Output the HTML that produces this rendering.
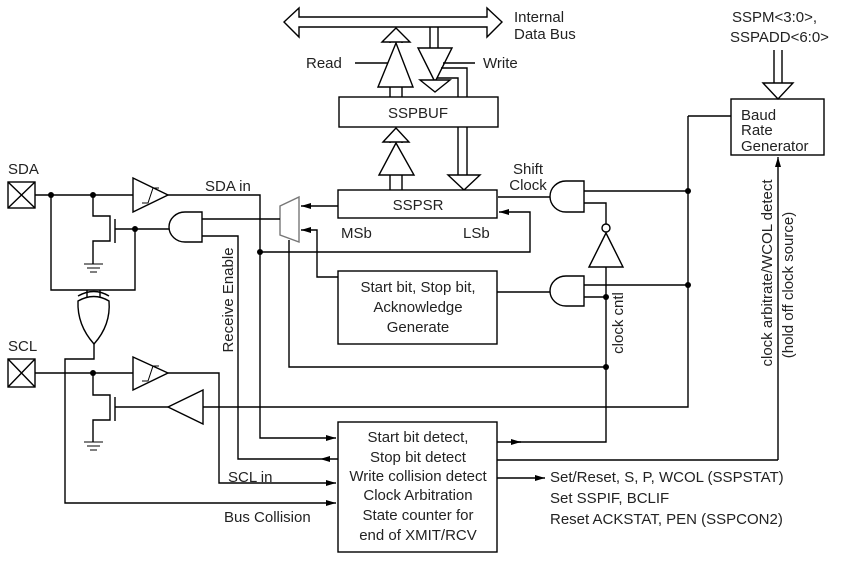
<!DOCTYPE html>
<html><head><style>html,body{margin:0;padding:0;background:#fff}svg{display:block}text{font-family:"Liberation Sans",Arial,sans-serif;fill:#222}</style></head>
<body>
<svg width="847" height="561" viewBox="0 0 847 561" xmlns="http://www.w3.org/2000/svg">
<defs>
<marker id="a" markerWidth="10" markerHeight="6" refX="10" refY="3" orient="auto" markerUnits="userSpaceOnUse"><path d="M0,0 L10,3 L0,6 Z" fill="#000"/></marker>
</defs>
<g stroke="#000" stroke-width="1.4" fill="none">
<path d="M284,22 L299,8 L299,17 L487,17 L487,8 L502,22 L487,37 L487,27 L299,27 L299,37 Z" fill="#fff"/>
<path d="M390,97 V87 M402,97 V87"/>
<path d="M378,87 L396,43 L413,87 Z" fill="#fff"/>
<path d="M390,43 V40 M402,43 V40"/>
<path d="M382,42 L396,28 L410,42 Z" fill="#fff"/>
<path d="M355,63 H388"/>
<path d="M430,27 V48 M438,27 V48"/>
<path d="M418,48 L452,48 L435,82 Z" fill="#fff"/>
<path d="M443,63 H475 M441,68 H467 V97 M437,78 H458 V97"/>
<path d="M420,80 L435,92 L450,80 Z" fill="#fff"/>
<rect x="339" y="97" width="159" height="30" fill="#fff"/>
<path d="M390,190 V175 M402,190 V175"/>
<path d="M379,175 L396,143 L414,175 Z" fill="#fff"/>
<path d="M390,143 V140 M402,143 V140"/>
<path d="M383,142 L396,128 L409,142 Z" fill="#fff"/>
<path d="M458,127 V175 M467,127 V175"/>
<path d="M448,175 L480,175 L464,190 Z" fill="#fff"/>
<rect x="338" y="190" width="159" height="28" fill="#fff"/>
<path d="M280,206 L299,197 L299,242 L280,235 Z" stroke="#777"/>
<path d="M338,206 H301" marker-end="url(#a)"/>
<path d="M338,277 H317 V230 H301" marker-end="url(#a)"/>
<path d="M289,240 V367 H606"/>
<path d="M280,219 H202"/>
<path d="M260,252 H530 V212 H499" marker-end="url(#a)"/>
<rect x="338" y="271" width="159" height="73" fill="#fff"/>
<path d="M497,292 H550"/>
<path d="M584,181 H566 A16,15.5 0 0 0 566,212 H584 Z" fill="#fff"/>
<path d="M550,197 H498 M584,191 H688 M584,203 H606 V224"/>
<circle cx="606" cy="228" r="4" fill="#fff"/>
<path d="M589,267 L606,233 L623,267 Z" fill="#fff"/>
<path d="M606,267 V442 H518"/>
<path d="M497,442 H521" marker-end="url(#a)"/>
<path d="M584,276 H566 A16,15 0 0 0 566,306 H584 Z" fill="#fff"/>
<path d="M584,285 H688 M584,297 H606"/>
<path d="M688,116 H731 M688,116 V407 H203"/>
<rect x="731" y="99" width="93" height="56" fill="#fff"/>
<path d="M774,50 V83 M782,50 V83"/>
<path d="M763,83 L793,83 L778,99 Z" fill="#fff"/>
<path d="M778,460 V157" marker-end="url(#a)"/>
<path d="M497,460 H778"/>
<path d="M497,478 H545" marker-end="url(#a)"/>
<rect x="8" y="182" width="27" height="26"/>
<path d="M8,182 L35,208 M35,182 L8,208"/>
<path d="M35,195 H133"/>
<path d="M133,178 L168,195 L133,212 Z" fill="#fff"/>
<path d="M142,203 H148 L153,188 H159" stroke-width="1"/>
<path d="M168,195 H260 V438 H336" marker-end="url(#a)"/>
<path d="M51,195 V290 H135 V229"/>
<path d="M93,195 V216 H110 V241 H93 V264 M115,219 V243 M115,229 H169"/>
<path d="M84,264 H103 M87,268 H100 M90,272 H97" stroke-width="1"/>
<path d="M202,212 H185 A16,15 0 0 0 185,242 H202 Z" fill="#fff"/>
<path d="M202,236 H238 V459 H320"/>
<path d="M338,459 H320" marker-end="url(#a)"/>
<path d="M87,290 V303 M100,290 V303"/>
<path d="M78,301 Q94,292 109,301 Q111,325 94,344 Q77,325 78,301 Z" fill="#fff"/>
<path d="M78,296 Q94,287 109,296"/>
<path d="M94,344 V359 H65 V503 H336" marker-end="url(#a)"/>
<rect x="8" y="359" width="27" height="28"/>
<path d="M8,359 L35,387 M35,359 L8,387"/>
<path d="M35,373 H133"/>
<path d="M133,357 L168,373 L133,390 Z" fill="#fff"/>
<path d="M142,381 H148 L153,366 H159" stroke-width="1"/>
<path d="M168,373 H219 V483 H336" marker-end="url(#a)"/>
<path d="M93,373 V395 H110 V420 H93 V442 M115,397 V421 M115,407 H168"/>
<path d="M84,442 H103 M87,446 H100 M90,450 H97" stroke-width="1"/>
<path d="M203,390 L168,407 L203,424 Z" fill="#fff"/>
<rect x="338" y="422" width="159" height="130" fill="#fff"/>
</g>
<g fill="#000" stroke="none">
<circle cx="51" cy="195" r="3"/><circle cx="93" cy="195" r="3"/><circle cx="135" cy="229" r="3"/>
<circle cx="93" cy="373" r="3"/><circle cx="260" cy="252" r="3"/>
<circle cx="688" cy="191" r="3"/><circle cx="688" cy="285" r="3"/>
<circle cx="606" cy="297" r="3"/><circle cx="606" cy="367" r="3"/>
</g>
<g font-size="15">
<text x="514" y="22">Internal</text>
<text x="514" y="39">Data Bus</text>
<text x="306" y="68">Read</text>
<text x="483" y="68">Write</text>
<text x="418" y="118" text-anchor="middle">SSPBUF</text>
<text x="418" y="210" text-anchor="middle">SSPSR</text>
<text x="341" y="238">MSb</text>
<text x="463" y="238">LSb</text>
<text x="528" y="174" text-anchor="middle">Shift</text>
<text x="528" y="190" text-anchor="middle">Clock</text>
<text x="205" y="191">SDA in</text>
<text x="8" y="174">SDA</text>
<text x="8" y="351">SCL</text>
<text x="418" y="292" text-anchor="middle">Start bit, Stop bit,</text>
<text x="418" y="312" text-anchor="middle">Acknowledge</text>
<text x="418" y="332" text-anchor="middle">Generate</text>
<text x="418" y="442" text-anchor="middle">Start bit detect,</text>
<text x="418" y="462" text-anchor="middle">Stop bit detect</text>
<text x="418" y="481" text-anchor="middle">Write collision detect</text>
<text x="418" y="500" text-anchor="middle">Clock Arbitration</text>
<text x="418" y="520" text-anchor="middle">State counter for</text>
<text x="418" y="540" text-anchor="middle">end of XMIT/RCV</text>
<text x="228" y="482">SCL in</text>
<text x="224" y="522">Bus Collision</text>
<text x="550" y="482">Set/Reset, S, P, WCOL (SSPSTAT)</text>
<text x="550" y="503">Set SSPIF, BCLIF</text>
<text x="550" y="524">Reset ACKSTAT, PEN (SSPCON2)</text>
<text x="732" y="22">SSPM&lt;3:0&gt;,</text>
<text x="730" y="42">SSPADD&lt;6:0&gt;</text>
<text x="741" y="120">Baud</text>
<text x="741" y="135">Rate</text>
<text x="741" y="151">Generator</text>
<text transform="translate(233,300) rotate(-90)" text-anchor="middle">Receive Enable</text>
<text transform="translate(623,323) rotate(-90)" text-anchor="middle">clock cntl</text>
<text transform="translate(772,273) rotate(-90)" text-anchor="middle">clock arbitrate/WCOL detect</text>
<text transform="translate(793,285) rotate(-90)" text-anchor="middle">(hold off clock source)</text>
</g>
</svg>
</body></html>
